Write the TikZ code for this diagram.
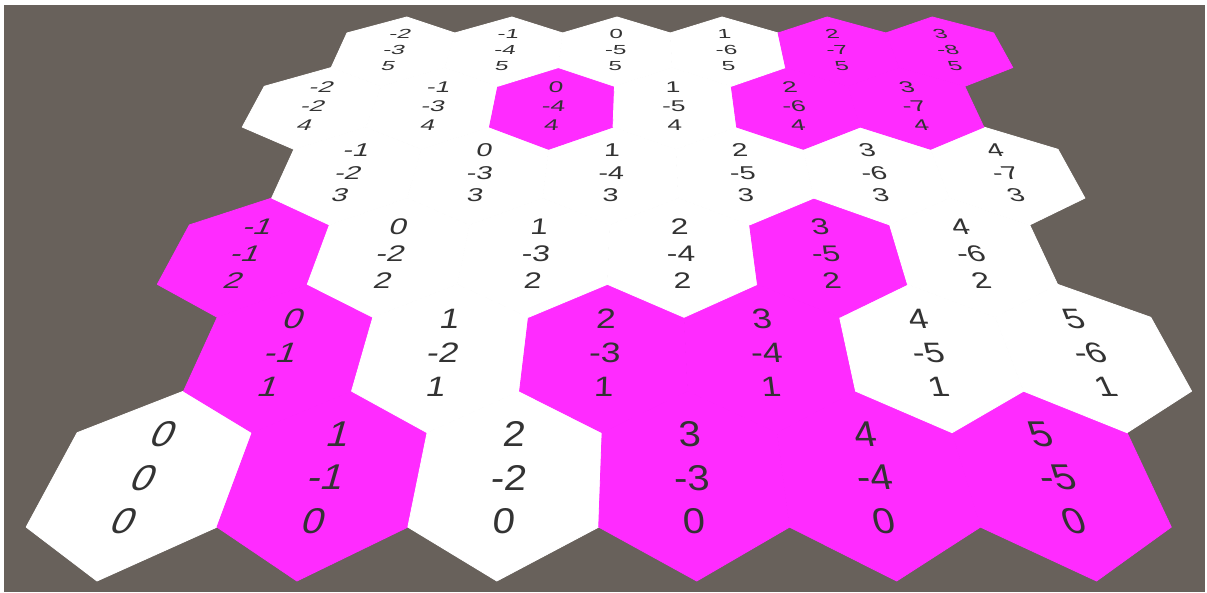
\documentclass[tikz,border=0pt]{standalone}
\usepackage{fontspec}
\setmainfont{Liberation Sans}
\definecolor{bg}{HTML}{68615B}
\definecolor{hexm}{HTML}{FF2BFF}
\definecolor{hexw}{HTML}{FFFFFF}
\definecolor{txt}{HTML}{333333}
\tikzset{
  hexcell/.style={line width=0.8pt, line join=round},
  lbl/.style={transform shape, inner sep=0pt, align=center, text=txt,
    font=\fontsize{10}{12.1}\selectfont}
}
\begin{document}
\begin{tikzpicture}[x=1pt,y=1pt,
  declare function={
    W(\q)=10000/(9.2094+0.799*\q);
    M(\p)=-0.4562+0.09707*\p;
    PX(\p,\q)=639.4+M(\p)*W(\q);
    PY(\q)=1200-W(\q);
  }]
\useasboundingbox (0,0) rectangle (1207,592);
\fill[white] (0,0) rectangle (1207,592);
\fill[bg] (4,0) rectangle (1205,587);
% hex cells
\foreach \r/\cl in {0/{w,m,w,m,m,m},1/{m,w,m,m,w,w},2/{m,w,w,w,m,w},3/{w,w,w,w,w,w},4/{w,w,m,w,m,m},5/{w,w,w,w,m,m}} {
  \foreach \c [count=\j] in \cl {
    \pgfmathtruncatemacro\i{\j-1}
    \pgfmathsetmacro\pc{1.7320508*(\i+0.5*mod(\r,2))}
    \pgfmathsetmacro\pl{\pc-0.8660254}
    \pgfmathsetmacro\pr{\pc+0.8660254}
    \pgfmathsetmacro\qc{1.5*\r}
    \filldraw[hexcell, fill=hex\c, draw=hex\c]
      ({PX(\pc,\qc+1)},{PY(\qc+1)}) --
      ({PX(\pr,\qc+0.5)},{PY(\qc+0.5)}) --
      ({PX(\pr,\qc-0.5)},{PY(\qc-0.5)}) --
      ({PX(\pc,\qc-1)},{PY(\qc-1)}) --
      ({PX(\pl,\qc-0.5)},{PY(\qc-0.5)}) --
      ({PX(\pl,\qc+0.5)},{PY(\qc+0.5)}) -- cycle;
  }
}
% labels
\foreach \r in {0,...,5} {
  \foreach \i in {0,...,5} {
    \pgfmathsetmacro\pc{1.7320508*(\i+0.5*mod(\r,2))}
    \pgfmathsetmacro\qc{1.5*\r}
    \pgfmathtruncatemacro\xl{\i-floor(\r/2)}
    \pgfmathtruncatemacro\yl{-\xl-\r}
    \pgfmathsetmacro\Wc{W(\qc)}
    \pgfmathsetmacro\Hs{0.09707*\Wc/26.3}
    \pgfmathsetmacro\Vs{0.799*(\Wc/100)*(\Wc/100)/26.3}
    \pgfmathsetmacro\Cs{-M(\pc)*\Vs}
    \pgfmathsetmacro\Xc{PX(\pc,\qc)}
    \pgfmathsetmacro\Yc{PY(\qc)}
    \begin{scope}[cm={\Hs,0,\Cs,\Vs,(\Xc,\Yc)}]
      \node[lbl] (t\r-\i) at (0,0) {\xl\\\yl\\\r};
    \end{scope}
  }
}
\end{tikzpicture}
\end{document}
